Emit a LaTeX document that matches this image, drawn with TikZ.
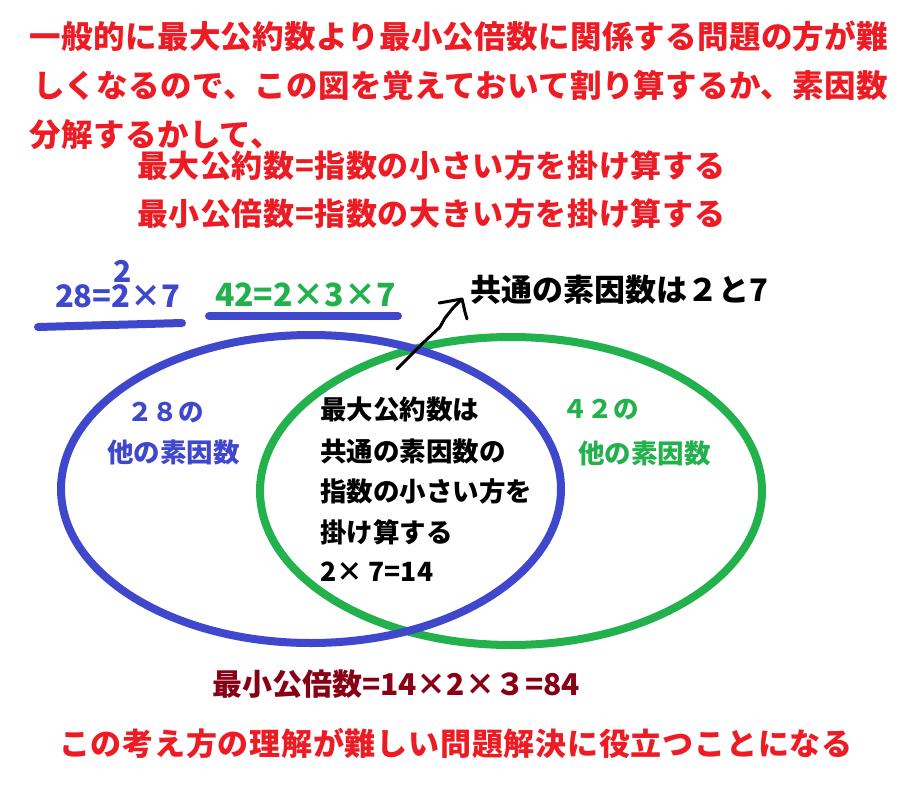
\documentclass[tikz,border=0pt]{standalone}
\usepackage{fontspec}
\setmainfont{Noto Sans CJK JP}
\definecolor{pred}{HTML}{ED1C24}
\definecolor{pblue}{HTML}{3F48CC}
\definecolor{pgreen}{HTML}{22B14C}
\definecolor{pdark}{HTML}{880015}
\newcommand\jf[2]{\fontsize{#1}{#1}\selectfont\bfseries\addfontfeature{LetterSpace=#2}}
\tikzset{
  lbl/.style={anchor=west, inner sep=0pt, outer sep=0pt},
  ring/.style={line width=8pt},
  uline/.style={pblue, line width=8pt, line cap=round},
  pen/.style={black, line width=3pt, line cap=round, line join=round},
}
\begin{document}
\begin{tikzpicture}[x=1pt,y=-1pt]
\useasboundingbox (0,0) rectangle (919,795);
\fill[white] (0,0) rectangle (919,795);
% top explanation
\node[lbl, pred, font=\jf{31.5}{1}] (t1) at (30,36) {一般的に最大公約数より最小公倍数に関係する問題の方が難};
\node[lbl, pred, font=\jf{31.5}{1.2}] (t2) at (33,85) {しくなるので、この図を覚えておいて割り算するか、素因数};
\node[lbl, pred, font=\jf{31.5}{1}] (t3) at (30,135) {分解するかして、};
\node[lbl, pred, font=\jf{31}{2}] (t4) at (137,166) {最大公約数=指数の小さい方を掛け算する};
\node[lbl, pred, font=\jf{31}{2}] (t5) at (137,214) {最小公倍数=指数の大きい方を掛け算する};
% factorisations
\node[lbl, pblue, font=\jf{31}{0}] (f28) at (55,296) {28=2×7};
\node[pblue, inner sep=0pt, font=\jf{30}{0}] (sup) at (123,271) {2};
\node[lbl, pgreen, font=\jf{32}{0}] (f42) at (215,295) {42=2×3×7};
\coordinate (u1a) at (38,327);
\coordinate (u1b) at (182,323);
\coordinate (u2a) at (209,316);
\coordinate (u2b) at (398,316);
\draw[uline] (u1a) -- (u1b);
\draw[uline] (u2a) -- (u2b);
% ellipses
\draw[ring, pgreen] (511,491) ellipse [x radius=251pt, y radius=154pt];
\draw[ring, pblue] (311,489) ellipse [x radius=250pt, y radius=154pt];
% common factor label and arrow
\node[lbl, black, font=\jf{31}{0}] (common) at (470,290) {共通の素因数は２と7};
\coordinate (as) at (397,369);
\coordinate (tip) at (462,299);
\draw[pen] (as) -- (423,343) -- (440,327) -- (445,318) -- (453,308) -- (tip);
\draw[pen] (439,303) -- (tip) -- (465,312) -- (467,319);
% left region
\node[lbl, pblue, font=\jf{25.5}{0}] (l1) at (127,413) {２８の};
\node[lbl, pblue, font=\jf{26.5}{0}] (l2) at (107,452) {他の素因数};
% right region
\node[lbl, pgreen, font=\jf{25.5}{0}] (r1) at (562,410) {４２の};
\node[lbl, pgreen, font=\jf{26.5}{0}] (r2) at (578,453) {他の素因数};
% centre region
\node[lbl, black, font=\jf{26.5}{0}] (c1) at (320,409) {最大公約数は};
\node[lbl, black, font=\jf{26.5}{0}] (c2) at (320,451) {共通の素因数の};
\node[lbl, black, font=\jf{26.5}{0}] (c3) at (320,491) {指数の小さい方を};
\node[lbl, black, font=\jf{26.5}{0}] (c4) at (320,532) {掛け算する};
\node[lbl, black, font=\jf{26.5}{0}] (c5) at (320,572) {2× 7=14};
% bottom
\node[lbl, pdark, font=\jf{30}{0}] (lcm) at (212,684) {最小公倍数=14×2×３=84};
\node[lbl, pred, font=\jf{31}{2.5}] (b1) at (59,744) {この考え方の理解が難しい問題解決に役立つことになる};
\end{tikzpicture}
\end{document}
